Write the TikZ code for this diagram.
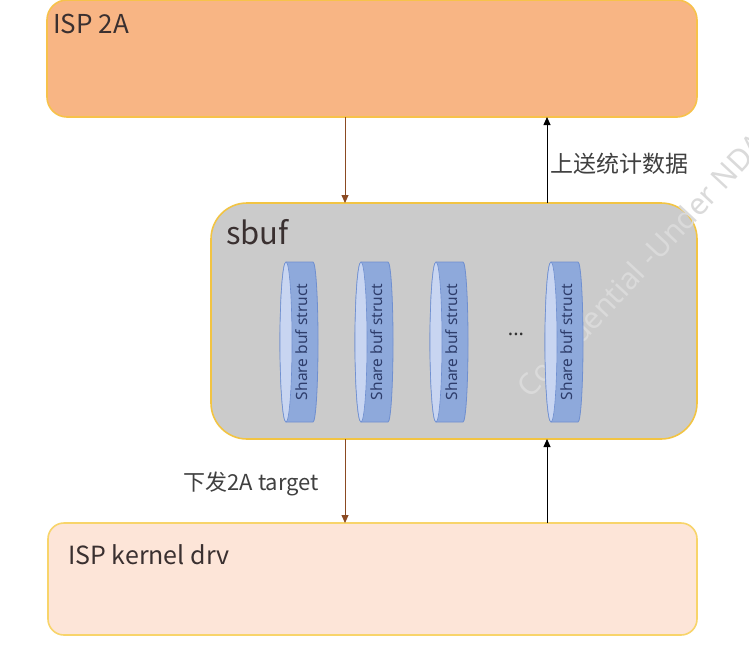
\documentclass[tikz,border=0pt]{standalone}
\usepackage{fontspec}
\setmainfont{Noto Sans CJK SC}
\newfontfamily\latinsans{Noto Sans}
\usetikzlibrary{arrows.meta}
\definecolor{topfill}{HTML}{F8B584}
\definecolor{topdraw}{HTML}{F7C24A}
\definecolor{midfill}{HTML}{CBCBCB}
\definecolor{middraw}{HTML}{F2C443}
\definecolor{botfill}{HTML}{FDE5D8}
\definecolor{botdraw}{HTML}{F8D46A}
\definecolor{cylbody}{HTML}{8EA9DB}
\definecolor{cyldraw}{HTML}{6F8FD0}
\definecolor{cylcap}{HTML}{C8D5F1}
\definecolor{cyltext}{HTML}{2E3D6B}
\definecolor{brownarrow}{HTML}{8B4A22}
\definecolor{titletext}{HTML}{3A3030}
\definecolor{labeltext}{HTML}{404040}
\definecolor{wmtext}{HTML}{DADADA}
\tikzset{
  x=1pt, y=-1pt,
  panel/.style={draw, line width=1.6pt, inner sep=0pt},
  titlestyle/.style={anchor=north west, inner sep=0pt, text=titletext},
  flowdown/.style={draw=brownarrow, line width=0.8pt, -{Triangle[width=7pt,length=8pt]}},
  flowup/.style={draw=black, line width=0.8pt, -{Triangle[width=7pt,length=8pt]}},
  arrowlabel/.style={inner sep=0pt, text=labeltext},
  cyllabel/.style={rotate=90, inner sep=0pt, text=cyltext, font=\latinsans\fontsize{15.5}{17}\selectfont},
}
\begin{document}
\begin{tikzpicture}
\useasboundingbox (0,0) rectangle (749,653);
\fill[white] (0,0) rectangle (749,653);
\begin{scope}
\clip (0,0) rectangle (749,653);
% boxes
\draw[panel, draw=topdraw, fill=topfill, rounded corners=20pt] (47,0) rectangle (697,117);
\draw[panel, draw=middraw, fill=midfill, rounded corners=36pt] (211,203) rectangle (697,439);
\draw[panel, draw=botdraw, fill=botfill, rounded corners=16pt] (48,523) rectangle (697,635);
% titles
\node[titlestyle, font=\fontsize{26}{30}\selectfont] (isp2a) at (53,14) {ISP 2A};
\node[titlestyle, font=\fontsize{31}{36}\selectfont] (sbuf) at (226,219) {sbuf};
\node[titlestyle, font=\fontsize{25}{30}\selectfont] (kdrv) at (68,544) {ISP kernel drv};
% watermark
\node[anchor=south west, rotate=47, inner sep=0pt, text=wmtext,
      font=\latinsans\fontsize{30}{34}\selectfont] (wm) at (531,400) {Confidential -Under NDA};
% cylinders
\foreach \L/\n in {280/c1, 355/c2, 430/c3, 545/c4}{
  \pgfmathsetmacro{\R}{\L+38}
  \pgfmathsetmacro{\Lc}{\L+6}
  \pgfmathsetmacro{\Rc}{\R-5}
  \draw[cyldraw, line width=0.8pt, fill=cylbody]
    (\Lc,262) -- (\Rc,262) arc[start angle=90, end angle=-90, x radius=5, y radius=-80]
    -- (\Lc,422) arc[start angle=-90, end angle=-270, x radius=6, y radius=-80] -- cycle;
  \draw[cyldraw, line width=0.6pt, fill=cylcap] (\Lc,342) ellipse[x radius=6, y radius=80];
  \node[cyllabel] (\n) at ({\L+22},342) {Share buf struct};
}
\node[inner sep=0pt, font=\latinsans\fontsize{20}{22}\selectfont, text=black!80] (dots) at (516,334) {...};
% connectors
\coordinate (a1s) at (345,117); \coordinate (a1e) at (345,203);
\coordinate (a2s) at (547,203); \coordinate (a2e) at (547,117);
\coordinate (a3s) at (345,439); \coordinate (a3e) at (345,523);
\coordinate (a4s) at (547,523); \coordinate (a4e) at (547,439);
\draw[flowdown] (a1s) -- (a1e);
\draw[flowup] (a2s) -- (a2e);
\draw[flowdown] (a3s) -- (a3e);
\draw[flowup] (a4s) -- (a4e);
\node[arrowlabel, anchor=west, font=\fontsize{23}{26}\selectfont] (lup) at (550,164) {上送统计数据};
\node[arrowlabel, anchor=east, font=\fontsize{22}{26}\selectfont] (ldown) at (319,484) {下发2A target};
\end{scope}
\end{tikzpicture}
\end{document}
